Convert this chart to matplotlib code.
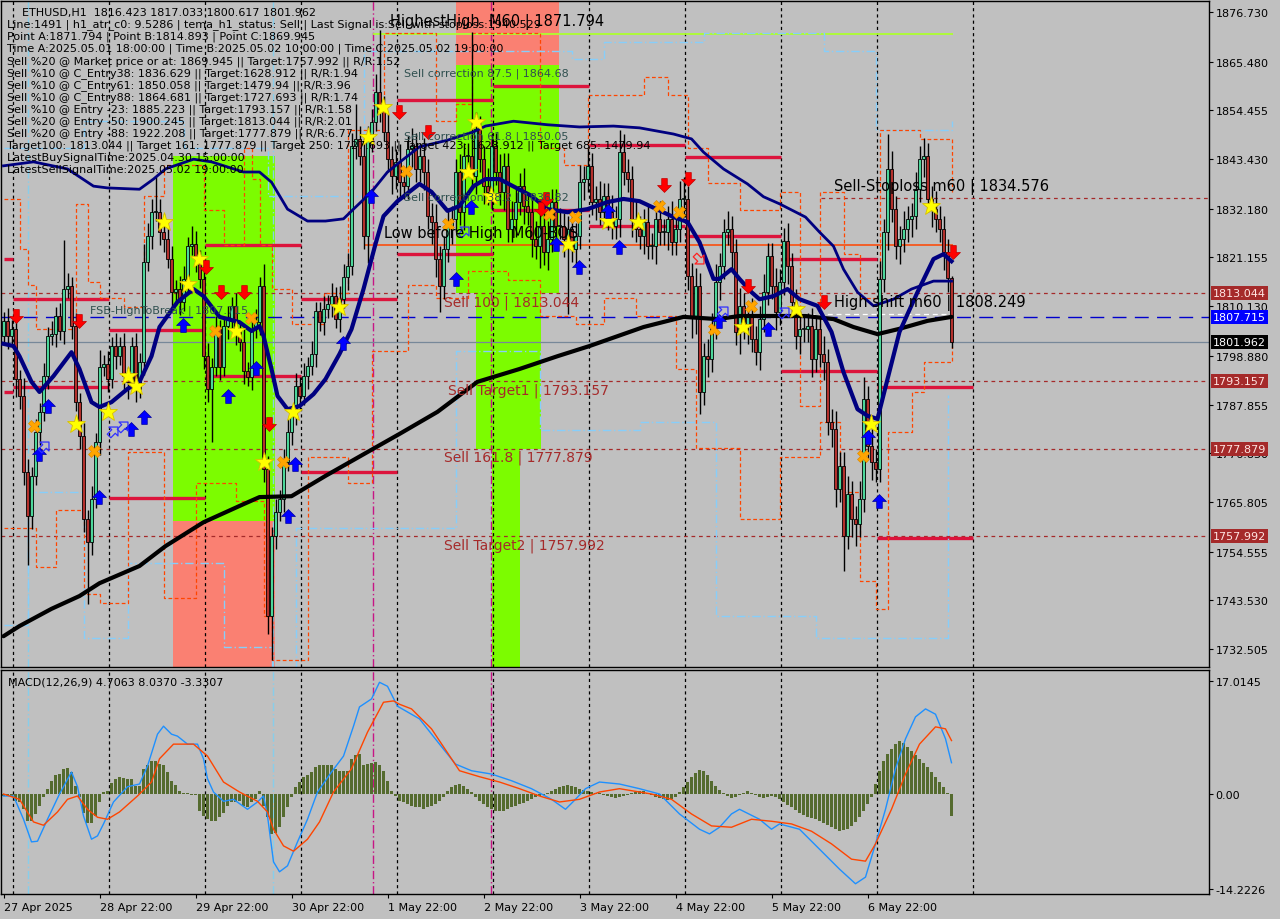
import numpy as np
import matplotlib
matplotlib.use("Agg")
import matplotlib.pyplot as plt
from matplotlib.path import Path
from matplotlib.transforms import Affine2D

# ---------------- price data (ETHUSD, H1) ----------------
open_first = 1803.4
close = [
    1806.8, 1803.4, 1805.0, 1793.6, 1789.8, 1772.6, 1762.6, 1771.7, 1781.6, 1786.2, 1794.3, 1803.4,
    1803.8, 1807.9, 1804.5, 1814.0, 1814.7, 1805.6, 1788.4, 1780.7, 1761.9, 1756.7, 1766.5, 1779.4,
    1796.3, 1797.0, 1793.6, 1801.1, 1798.8, 1801.1, 1794.3, 1793.0, 1801.1, 1791.4, 1797.5, 1820.1,
    1826.0, 1831.4, 1831.4, 1826.9, 1825.3, 1820.8, 1813.3, 1814.0, 1811.1, 1816.3, 1823.7, 1824.2,
    1820.8, 1816.3, 1798.8, 1791.4, 1796.3, 1805.0, 1796.3, 1805.6, 1807.2, 1810.2, 1804.3, 1802.0,
    1795.4, 1794.1, 1805.0, 1806.5, 1814.7, 1773.3, 1740.0, 1758.1, 1763.5, 1766.5, 1774.8, 1781.6,
    1785.3, 1792.1, 1789.8, 1794.3, 1796.6, 1799.3, 1809.0, 1806.5, 1809.5, 1810.6, 1812.4, 1807.2,
    1811.7, 1816.7, 1819.2, 1846.4, 1848.0, 1844.1, 1826.0, 1848.0, 1851.8, 1858.6, 1854.8, 1849.6,
    1843.4, 1839.6, 1842.8, 1838.2, 1837.3, 1845.7, 1846.4, 1841.2, 1844.1, 1840.5, 1830.5, 1829.2,
    1820.8, 1814.7, 1823.1, 1828.3, 1829.9, 1840.5, 1831.4, 1844.1, 1844.1, 1839.6, 1850.2, 1843.4,
    1837.3, 1836.0, 1846.4, 1840.5, 1836.0, 1841.9, 1827.6, 1829.9, 1833.7, 1837.3, 1832.8, 1831.4,
    1825.3, 1823.7, 1828.3, 1822.4, 1825.3, 1833.7, 1828.3, 1828.3, 1825.3, 1827.6, 1823.1, 1826.0,
    1838.2, 1838.9, 1841.9, 1833.7, 1834.4, 1831.4, 1835.1, 1831.4, 1828.3, 1829.9, 1845.0, 1840.5,
    1838.9, 1829.9, 1827.6, 1826.0, 1829.2, 1823.7, 1823.7, 1829.9, 1826.9, 1826.9, 1829.9, 1824.6,
    1827.6, 1834.4, 1834.4, 1816.9, 1807.9, 1814.7, 1790.7, 1798.8, 1798.2, 1805.6, 1815.6, 1819.2,
    1826.9, 1827.6, 1822.4, 1804.3, 1810.2, 1805.6, 1807.9, 1802.7, 1799.7, 1807.2, 1813.3, 1821.5,
    1814.7, 1808.8, 1815.6, 1824.9, 1819.2, 1811.1, 1803.4, 1805.0, 1805.0, 1805.6, 1798.2, 1805.0,
    1799.3, 1797.5, 1783.9, 1782.3, 1768.7, 1774.0, 1758.1, 1767.6, 1761.9, 1760.8, 1766.5, 1789.1,
    1778.5, 1774.8, 1773.3, 1816.3, 1826.9, 1841.2, 1832.1, 1823.7, 1825.3, 1827.6, 1829.9, 1830.5,
    1836.6, 1843.4, 1844.1, 1834.4, 1832.1, 1829.9, 1827.6, 1822.4, 1816.423, 1801.962,
]
upper_wick = [
    2, 3, 2, 3, 2, 4, 3, 2, 3, 2, 3, 2, 3, 2, 3, 11, 3, 2, 3, 2, 3, 2, 3, 2,
    4, 2, 3, 2, 3, 2, 3, 2, 2, 3, 2, 4, 3, 3, 8, 3, 4, 3, 3, 2, 3, 3, 2, 4,
    3, 2, 2, 3, 2, 3, 2, 2, 3, 2, 3, 2, 3, 2, 3, 3, 2, 5, 3, 2, 3, 2, 3, 3,
    2, 3, 2, 3, 2, 3, 2, 2, 3, 2, 3, 2, 3, 3, 3, 3, 8, 3, 4, 3, 3, 4, 14, 3,
    4, 3, 3, 4, 3, 3, 4, 3, 3, 4, 3, 3, 4, 3, 3, 4, 3, 3, 4, 3, 3, 28, 4, 3,
    3, 4, 3, 3, 4, 3, 3, 4, 3, 3, 4, 3, 3, 4, 3, 3, 4, 3, 3, 4, 3, 3, 4, 3,
    4, 3, 4, 3, 3, 4, 3, 3, 4, 3, 5, 4, 3, 3, 4, 3, 3, 4, 3, 3, 4, 3, 3, 4,
    3, 4, 5, 3, 3, 4, 3, 3, 4, 3, 4, 3, 3, 4, 3, 3, 4, 3, 3, 4, 3, 3, 4, 3,
    3, 4, 3, 3, 4, 3, 3, 4, 3, 3, 4, 3, 3, 4, 3, 3, 4, 3, 3, 4, 3, 3, 4, 5,
    3, 4, 3, 4, 3, 8, 4, 3, 3, 4, 3, 3, 4, 3, 4, 3, 3, 4, 3, 3, 3, 0.61,
]
lower_wick = [
    2, 3, 2, 4, 3, 3, 11, 3, 2, 3, 2, 3, 2, 3, 2, 3, 2, 3, 2, 3, 3, 14, 3, 2,
    3, 2, 3, 2, 3, 2, 3, 4, 2, 3, 2, 3, 2, 3, 2, 3, 3, 2, 4, 3, 3, 2, 3, 2,
    3, 2, 3, 3, 12, 2, 3, 2, 3, 2, 3, 2, 3, 2, 3, 2, 3, 3, 4, 10, 3, 2, 3, 2,
    3, 2, 3, 2, 3, 2, 3, 2, 3, 2, 3, 2, 3, 2, 3, 2, 3, 2, 3, 6, 3, 2, 3, 2,
    3, 4, 3, 4, 3, 3, 4, 3, 3, 4, 3, 5, 4, 6, 3, 3, 4, 3, 3, 4, 3, 3, 4, 3,
    4, 3, 4, 3, 3, 4, 3, 3, 4, 3, 4, 3, 4, 3, 5, 3, 4, 3, 4, 3, 4, 17, 3, 4,
    3, 4, 3, 3, 4, 3, 3, 4, 3, 3, 4, 3, 3, 4, 3, 3, 4, 3, 3, 4, 3, 3, 4, 3,
    3, 3, 4, 3, 5, 4, 5, 3, 4, 3, 3, 4, 3, 3, 4, 3, 5, 3, 4, 3, 3, 4, 3, 3,
    3, 4, 3, 3, 4, 3, 3, 4, 3, 3, 4, 3, 3, 4, 3, 4, 4, 3, 8, 3, 4, 5, 3, 3,
    3, 4, 3, 3, 3, 4, 3, 3, 4, 3, 3, 4, 3, 3, 4, 3, 4, 3, 3, 4, 3, 1.35,
]

# ---------------- moving averages (bar index, price) ----------------
fast_ma_bar = [0, 2.5, 4, 7, 9, 12.5, 17, 19, 22, 24, 27, 31, 34, 37, 39, 43.5, 47.5, 50, 54, 59, 62, 64,
               65, 67, 68.5, 71, 74, 77.5, 80.5, 84, 87, 90, 93, 95, 98.5, 104, 107, 111, 114, 117.5,
               120.5, 124, 132, 136, 141, 146, 151, 155, 159, 167.5, 171, 174, 177.5, 179, 182, 184,
               187, 189, 192.5, 196, 199, 203.5, 207, 210, 213.5, 216, 218.5, 221, 224, 228.5, 232.5,
               235, 237]
fast_ma_val = [1801.6, 1801.1, 1798.8, 1793.0, 1790.7, 1794.3, 1799.7, 1795.9, 1788.4, 1787.3, 1788.4,
               1791.4, 1793.0, 1798.8, 1805.4, 1811.1, 1814.0, 1812.4, 1807.7, 1806.5, 1804.5, 1805.6,
               1803.4, 1795.9, 1789.8, 1786.8, 1787.5, 1790.2, 1793.6, 1799.3, 1804.9, 1814.0, 1824.2,
               1830.5, 1833.9, 1837.8, 1836.0, 1831.7, 1832.8, 1837.3, 1838.9, 1838.9, 1835.1, 1832.1,
               1831.4, 1832.1, 1833.7, 1834.4, 1833.9, 1830.3, 1829.2, 1824.6, 1816.3, 1816.3, 1818.5,
               1816.3, 1813.3, 1811.7, 1812.4, 1814.0, 1811.7, 1810.2, 1804.3, 1795.2, 1786.8, 1785.3,
               1784.6, 1793.6, 1804.3, 1813.3, 1820.8, 1821.9, 1820.3]
slow_band_bar = [0, 7.5, 16, 22.5, 26, 34, 37.5, 40.5, 47.5, 52, 60, 64, 67, 71, 76, 80.5, 85, 87.5, 92,
                 96, 100, 104, 111, 117.5, 120.5, 127.5, 136, 144, 152.5, 159, 167.5, 172, 175, 180,
                 186, 190, 194, 200.5, 204, 207.5, 210, 213.5, 217.5, 222.5, 227, 232.5, 237]
slow_band_val = [1841.9, 1842.8, 1841.2, 1837.3, 1836.9, 1836.6, 1838.9, 1841.2, 1843.4, 1842.8, 1840.5,
                 1840.5, 1838.2, 1832.1, 1829.4, 1829.4, 1829.9, 1832.1, 1836.0, 1840.5, 1843.4, 1846.2,
                 1847.7, 1849.6, 1850.9, 1852.0, 1851.2, 1850.7, 1850.9, 1850.5, 1849.1, 1848.0, 1845.0,
                 1841.2, 1837.8, 1834.9, 1833.3, 1830.3, 1826.9, 1823.7, 1818.5, 1813.3, 1810.2, 1811.7,
                 1814.0, 1815.8, 1815.8]
long_ma_bar = [0, 4, 12, 19, 24, 34, 40.5, 50, 60, 64, 72, 80.5, 91, 99, 108.5, 118.5, 129, 138.5, 146.5,
               160, 170, 178.5, 184, 200.5, 207.5, 212.5, 218.5, 224, 231, 237]
long_ma_val = [1735.4, 1737.7, 1741.6, 1744.5, 1747.4, 1751.3, 1755.8, 1761.2, 1765.3, 1766.9, 1767.1,
               1771.7, 1777.1, 1781.2, 1786.2, 1793.0, 1795.9, 1798.8, 1801.1, 1805.4, 1807.7, 1807.2,
               1807.9, 1807.9, 1807.2, 1805.4, 1803.8, 1805.0, 1806.8, 1807.7]

# ---------------- channel step lines (bar index, price) ----------------
chan_hi_bar = [0, 4, 6, 8, 18, 21, 24, 30, 35, 40, 50, 55, 60, 62, 64, 67, 72, 80, 86, 95, 108, 113, 117,
               134, 140, 146, 160, 166, 171, 176, 184, 194, 199, 204, 210, 214, 219, 229, 237]
chan_hi_val = [1834.4, 1823.1, 1815.0, 1805.0, 1833.3, 1815.6, 1812.0, 1810.0, 1835.0, 1842.0, 1832.0,
               1824.0, 1846.0, 1839.0, 1824.0, 1814.0, 1806.0, 1813.0, 1850.0, 1872.0, 1852.0, 1856.0,
               1872.0, 1846.0, 1842.0, 1858.0, 1862.0, 1858.0, 1846.0, 1838.0, 1832.0, 1836.0, 1787.5,
               1836.0, 1822.0, 1812.0, 1850.0, 1848.0, 1836.0]
chan_lo_bar = [0, 8, 13, 20, 24, 31, 40, 48, 58, 65, 67, 76, 86, 92, 101, 108, 116, 126, 134, 143, 150,
               158, 168, 173, 184, 194, 204, 209, 214, 218, 221, 227, 230, 237]
chan_lo_val = [1760.0, 1751.0, 1764.0, 1745.0, 1743.0, 1777.0, 1744.0, 1770.0, 1766.0, 1740.0, 1730.0,
               1776.0, 1770.0, 1800.0, 1815.0, 1812.0, 1818.0, 1816.0, 1808.0, 1806.0, 1812.0, 1808.0,
               1796.0, 1778.0, 1762.0, 1776.0, 1784.0, 1768.0, 1748.0, 1741.6, 1781.6, 1790.7, 1797.5,
               1801.0]
wide_hi_bar = [0, 20, 45, 66, 90, 142, 150, 175, 205, 218, 237]
wide_hi_val = [1846.0, 1852.0, 1846.0, 1835.0, 1868.0, 1866.0, 1870.0, 1872.0, 1868.0, 1850.0, 1852.0]
wide_lo_bar = [0, 6, 20, 31, 55, 67, 73, 113, 134, 159, 178, 203, 236]
wide_lo_val = [1738.0, 1768.0, 1735.0, 1752.0, 1733.0, 1728.5, 1760.0, 1800.0, 1782.0, 1784.0, 1740.0,
               1735.0, 1790.0]

# ---------------- horizontal levels ----------------
level_sell100 = 1813.044
level_target1 = 1793.157
level_sell161 = 1777.879
level_target2 = 1757.992
level_stoploss = 1834.576
level_fsb = 1807.715
level_bid = 1801.962
level_high_shift = 1808.249
level_low_before_high = 1823.9
level_highest_high = 1871.794

# daily swing segments: (start bar, end bar, price)
seg_start = [0, 0, 2.25, 2.25, 26.25, 26.25, 50.25, 50.25, 74.25, 74.25, 98.25, 98.25, 122.25, 122.25,
             146.25, 146.25, 170.25, 170.25, 194.25, 194.25, 218.25, 218.25]
seg_end = [2.25, 2.25, 26.25, 26.25, 50.25, 50.25, 74.25, 74.25, 98.25, 98.25, 122.25, 122.25, 146.25,
           146.25, 170.25, 170.25, 194.25, 194.25, 218.25, 218.25, 242.25, 242.25]
seg_price = [1820.8, 1790.7, 1811.7, 1791.8, 1804.7, 1766.7, 1824.0, 1794.3, 1811.7, 1772.6, 1856.8,
             1821.9, 1860.0, 1831.9, 1846.6, 1828.3, 1843.9, 1826.0, 1820.8, 1795.4, 1791.8, 1757.6]

# ---------------- signal markers (bar index, price) ----------------
star_bar = [40, 46, 48.75, 58, 65, 72.25, 31, 33, 26, 18, 83.75, 94.75, 91, 118, 116, 121.75, 141, 151,
            158.5, 184.75, 198, 216.75, 231.75]
star_val = [1829.2, 1815.1, 1820.8, 1804.5, 1774.8, 1786.2, 1794.3, 1792.0, 1786.2, 1783.4, 1809.9,
            1855.2, 1848.4, 1851.8, 1840.5, 1835.1, 1824.2, 1829.4, 1829.2, 1805.4, 1809.5, 1783.4,
            1832.8]
cross_bar = [7.5, 22.5, 52.75, 61.75, 69.75, 100.5, 111, 136.25, 142.75, 163.75, 168.75, 177.5, 186.75,
             214.75]
cross_val = [1783.0, 1777.3, 1804.5, 1807.4, 1774.8, 1840.7, 1828.7, 1831.0, 1830.3, 1832.8, 1831.4,
             1804.9, 1810.2, 1776.2]
sell_bar = [3, 18.75, 50.5, 54.25, 60, 66.25, 98.75, 106, 134.25, 135.5, 165, 171, 186, 205, 237.25]
sell_val = [1807.9, 1806.8, 1819.0, 1813.3, 1813.3, 1783.4, 1854.1, 1849.6, 1832.1, 1834.4, 1837.5,
            1838.9, 1814.7, 1811.1, 1822.4]
buy_bar = [11, 8.75, 23.75, 31.75, 35, 44.75, 56, 63, 72.75, 71, 84.75, 91.75, 116.75, 113, 138,
           143.75, 151, 153.75, 178.75, 191, 216, 218.75]
buy_val = [1787.5, 1776.7, 1766.9, 1782.3, 1785.0, 1805.9, 1789.8, 1796.1, 1774.4, 1762.6, 1801.8,
           1835.1, 1832.6, 1816.3, 1824.2, 1819.0, 1831.7, 1823.5, 1806.7, 1804.9, 1780.5, 1766.0]
hint_buy_bar = [10, 27.25, 29.75, 115, 179.75, 195]
hint_buy_val = [1778.5, 1781.9, 1783.0, 1827.1, 1809.0, 1808.8]
hint_sell_bar = [173.75]
hint_sell_val = [1820.8]

# ---------------- MACD(12,26,9) ----------------
macd_bar = [0, 2.5, 5, 7, 8.5, 11, 14, 17, 18.5, 20, 22, 23.5, 25, 27.5, 31, 34, 36, 38.5, 40, 42, 43.5,
            46, 48.5, 50, 51, 52.5, 55, 57.5, 61, 63.5, 65, 66, 67.5, 69, 71, 73.5, 76, 78.5, 82, 85,
            87.5, 89, 92, 94, 96, 98.5, 104, 109, 113, 117, 122, 127, 132, 137, 140.5, 143, 145.5, 149,
            154, 159, 164, 169, 174, 176.5, 179, 182, 184, 189, 192, 194, 199, 204, 209, 213, 215.5,
            218, 220.5, 223, 225.5, 228, 230.5, 233, 235.5, 237]
macd_val = [-0.3, -0.3, -3.8, -7.2, -7.1, -3.8, 0.0, 3.3, 1.1, -3.3, -6.8, -6.3, -4.5, -1.2, 1.1, 1.5,
            4.2, 9.0, 10.2, 9.0, 8.7, 7.5, 7.5, 5.3, 2.3, 0.3, -1.1, -0.8, -2.3, -1.2, -0.3, -3.3, -10.2,
            -11.7, -10.8, -7.2, -3.8, 0.3, 3.3, 5.7, 10.2, 13.1, 14.3, 16.8, 16.2, 13.2, 11.3, 7.5, 4.5,
            3.5, 3.0, 2.0, 0.8, -0.8, -2.3, -0.8, 0.8, 1.8, 1.5, 0.8, 0.0, -3.0, -5.3, -6.0, -5.0, -3.0,
            -2.3, -3.8, -5.3, -4.5, -5.3, -8.3, -11.3, -13.5, -12.5, -7.5, -2.3, 3.8, 8.3, 11.6, 12.8,
            12.0, 8.3, 4.7063]
signal_bar = [0, 4, 7.5, 10, 13.5, 16, 18.5, 21, 23.5, 26, 29, 33.5, 37, 39, 42.5, 47.5, 51, 55, 59, 63.5,
              66, 67.5, 70, 72.5, 76, 79, 82.5, 87, 91, 95, 97.5, 99, 102, 107, 112, 114, 119, 124, 129,
              134, 139, 144, 149, 154, 162, 167, 172, 177, 182, 187, 192, 197, 202, 207, 212, 215.5, 218,
              222, 225.5, 229, 233, 235.5, 237]
signal_val = [0.0, -0.8, -4.2, -4.7, -2.7, -0.8, -0.3, -2.3, -3.5, -3.8, -2.7, -0.3, 1.8, 5.3, 7.5, 7.5,
              5.7, 1.8, 0.3, -1.1, -2.7, -5.3, -7.8, -8.6, -6.8, -4.2, 0.3, 3.8, 9.3, 13.8, 14.0, 13.5,
              12.8, 9.8, 5.3, 3.5, 2.6, 1.8, 0.8, -0.3, -1.2, -0.8, 0.3, 0.8, 0.0, -0.8, -3.0, -4.8, -5.0,
              -3.8, -4.1, -4.5, -5.6, -7.5, -9.8, -10.1, -7.5, -2.3, 3.0, 7.5, 10.1, 9.8, 8.037]
macd_hist = [
    -0.3, -0.3, -0.4, -1.0, -1.2, -2.3, -4.0, -4.0, -3.0, -1.8, -0.5, 0.8, 2.0, 2.9, 3.0, 3.8, 3.9, 3.3,
    1.2, -0.5, -2.8, -4.3, -4.3, -3.3,
    -1.2, 0.3, 0.5, 1.7, 2.3, 2.5, 2.4, 2.2, 2.2, 1.2, 1.2, 3.8, 4.3, 4.9, 5.0, 4.5, 4.3, 3.3, 2.0, 1.4,
    0.5, 0.1, 0.1, -0.1,
    -0.1, -2.5, -3.3, -3.8, -4.1, -4.0, -3.5, -2.8, -1.8, -1.2, -1.2, -1.0, -1.8, -2.0, -1.2, -0.8, 0.5,
    -1.8, -3.5, -6.0, -5.8, -5.0, -3.5, -2.0,
    -0.5, 1.0, 1.8, 2.6, 2.8, 3.3, 4.0, 4.4, 4.4, 4.4, 4.4, 3.8, 3.5, 3.5, 3.5, 5.3, 5.8, 6.0, 4.4, 4.5,
    4.7, 4.8, 4.3, 3.5,
    2.0, 0.5, -0.3, -1.0, -1.2, -1.5, -1.8, -2.0, -2.0, -2.2, -2.0, -1.8, -1.5, -1.0, -0.5, 0.5, 1.0, 1.3,
    1.5, 1.2, 0.8, 0.3, -0.5, -1.0,
    -1.5, -2.0, -2.3, -2.5, -2.6, -2.5, -2.3, -2.0, -1.8, -1.5, -1.3, -1.0, -0.8, -0.5, -0.3, -0.2, 0.2,
    0.5, 0.8, 1.0, 1.2, 1.3, 1.2, 1.0,
    0.8, 0.6, 0.4, 0.3, 0.2, 0.1, -0.1, -0.3, -0.5, -0.6, -0.5, -0.3, -0.2, 0.1, 0.3, 0.5, 0.4, 0.2, -0.2,
    -0.4, -0.6, -0.8, -0.9, -0.8,
    -0.5, 0.3, 1.0, 1.8, 2.6, 3.2, 3.6, 3.4, 2.8, 2.0, 1.2, 0.6, 0.2, -0.3, -0.6, -0.4, -0.2, 0.2, 0.4,
    0.2, -0.2, -0.5, -0.6, -0.5,
    -0.3, -0.5, -0.8, -1.2, -1.6, -2.0, -2.4, -2.8, -3.1, -3.4, -3.6, -3.8, -4.0, -4.3, -4.6, -5.0, -5.3,
    -5.5, -5.4, -5.2, -4.8, -4.2, -3.5, -2.5,
    -1.5, -0.5, 1.5, 3.5, 5.0, 6.0, 6.8, 7.5, 8.0, 7.6, 7.0, 6.4, 5.8, 5.2, 4.6, 4.0, 3.3, 2.6, 1.8, 1.0,
    0.2, -3.3307,
]

price_ticks = [1876.730, 1865.480, 1854.455, 1843.430, 1832.180, 1821.155, 1810.130, 1798.880,
               1787.855, 1776.830, 1765.805, 1754.555, 1743.530, 1732.505]
macd_ticks = [17.0145, 0.0, -14.2226]
macd_tick_labels = ["17.0145", "0.00", "-14.2226"]
time_tick_bars = [0, 24, 48, 72, 96, 120, 144, 168, 192, 216]
time_tick_labels = ["27 Apr 2025", "28 Apr 22:00", "29 Apr 22:00", "30 Apr 22:00", "1 May 22:00",
                    "2 May 22:00", "3 May 22:00", "4 May 22:00", "5 May 22:00", "6 May 22:00"]
day_breaks = [2.25 + 24 * k for k in range(11)]

info_lines = [
    "Line:1491 | h1_atr_c0: 9.5286 | tema_h1_status: Sell | Last Signal is:Sell with stoploss:1940.529",
    "Point A:1871.794 | Point B:1814.893 | Point C:1869.945",
    "Time A:2025.05.01 18:00:00 | Time B:2025.05.02 10:00:00 | Time C:2025.05.02 19:00:00",
    "Sell %20 @ Market price or at: 1869.945 || Target:1757.992 || R/R:1.52",
    "Sell %10 @ C_Entry38: 1836.629 || Target:1628.912 || R/R:1.94",
    "Sell %10 @ C_Entry61: 1850.058 || Target:1479.94 || R/R:3.96",
    "Sell %10 @ C_Entry88: 1864.681 || Target:1727.693 || R/R:1.74",
    "Sell %10 @ Entry -23: 1885.223 || Target:1793.157 || R/R:1.58",
    "Sell %20 @ Entry -50: 1900.245 || Target:1813.044 || R/R:2.01",
    "Sell %20 @ Entry -88: 1922.208 || Target:1777.879 || R/R:6.77",
    "Target100: 1813.044 || Target 161: 1777.879 || Target 250: 1727.693 || Target 423: 1628.912 || Target 685: 1479.94",
    "LatestBuySignalTime:2025.04.30 15:00:00",
    "LatestSellSignalTime:2025.05.02 19:00:00",
]

# ---------------- figure layout ----------------
W, H = 1280, 920
BG = "#C0C0C0"
plt.rcParams["font.family"] = ["DejaVu Sans"]
fig = plt.figure(figsize=(W / 100, H / 100), dpi=100, facecolor=BG)

ax = fig.add_axes([0.5 / W, 1 - 668 / H, 1208 / W, 666 / H], facecolor=BG)
ax2 = fig.add_axes([0.5 / W, 1 - 895 / H, 1208 / W, 224 / H], facecolor=BG)

XMIN, XMAX = -0.75, 301.25
ax.set_xlim(XMIN, XMAX)
ax.set_ylim(1728.43, 1879.22)
ax2.set_xlim(XMIN, XMAX)
ax2.set_ylim(-15.04, 18.65)

for a in (ax, ax2):
    for s in a.spines.values():
        s.set_color("black")
        s.set_linewidth(1.0)
    a.yaxis.tick_right()
    a.tick_params(axis="y", which="both", direction="out", length=3, width=0.8, labelsize=8,
                  colors="black", pad=2)

ax.set_xticks([])
ax.set_yticks(price_ticks)
ax.set_yticklabels([f"{v:.3f}" for v in price_ticks])

ax2.set_yticks(macd_ticks)
ax2.set_yticklabels(macd_tick_labels)
ax2.set_xticks(time_tick_bars)
ax2.set_xticklabels(time_tick_labels, ha="left")
ax2.tick_params(axis="x", direction="out", length=3, width=0.8, labelsize=8, pad=3)

# ---------------- background zones ----------------
def zone(a, x0, x1, y0, y1, color):
    a.fill_between([x0, x1], [y0, y0], [y1, y1], color=color, lw=0, zorder=0.5)

zone(ax, 42.25, 67.75, 1761.5, 1844.1, "#7CFC00")
zone(ax, 42.25, 67.75, 1700.0, 1761.5, "#FA8072")
zone(ax, 113.0, 138.75, 1864.68, 1900.0, "#FA8072")
zone(ax, 113.0, 138.75, level_sell100, 1864.68, "#7CFC00")
zone(ax, 118.0, 134.25, level_sell161, level_sell100, "#7CFC00")
zone(ax, 122.0, 129.0, 1727.693, level_sell161, "#7CFC00")

# ---------------- vertical markers ----------------
for a in (ax, ax2):
    for d in day_breaks:
        a.axvline(d, color="black", lw=0.9, ls=(0, (2.5, 2.5)), zorder=1)
    for v in (6.0, 67.25):
        a.axvline(v, color="#87CEEB", lw=1.0, ls=(0, (6, 2, 1, 2)), zorder=1)
    for v in (92.25, 121.75):
        a.axvline(v, color="#C71585", lw=1.0, ls=(0, (6, 2, 1, 2)), zorder=1)

# ---------------- horizontal levels ----------------
dash = (0, (3, 3))
for lv in (level_sell100, level_target1, level_sell161, level_target2):
    ax.axhline(lv, color="#A52A2A", lw=0.9, ls=dash, zorder=1.2)
ax.hlines(level_stoploss, 204.25, XMAX, color="#A52A2A", lw=0.9, ls=dash, zorder=1.2)
ax.axhline(level_fsb, color="#0000CD", lw=1.0, ls=(0, (10, 6)), zorder=1.2)
ax.axhline(level_bid, color="#778899", lw=0.9, zorder=1.2)
ax.hlines(level_high_shift, 199.25, 236.5, color="white", lw=0.9, ls=(0, (4, 3)), zorder=1.2)
ax.hlines(level_low_before_high, 90.0, 237.25, color="#FF4500", lw=1.1, zorder=1.3)
ax.hlines(level_highest_high, 92.25, 237.25, color="#ADFF2F", lw=1.3, zorder=1.3)

ax.hlines(seg_price, seg_start, seg_end, color="#DC143C", lw=2.4, zorder=1.6)

# ---------------- channel lines ----------------
ax.step(chan_hi_bar, chan_hi_val, where="post", color="#FF4500", lw=0.9, ls=(0, (3, 2)), zorder=1.8)
ax.step(chan_lo_bar, chan_lo_val, where="post", color="#FF4500", lw=0.9, ls=(0, (3, 2)), zorder=1.8)
ax.step(wide_hi_bar, wide_hi_val, where="post", color="#87CEFA", lw=1.0, ls=(0, (6, 2, 1, 2)), zorder=1.7)
ax.step(wide_lo_bar, wide_lo_val, where="post", color="#87CEFA", lw=1.0, ls=(0, (6, 2, 1, 2)), zorder=1.7)

# ---------------- candles ----------------
n = len(close)
xb = np.arange(n)
c = np.array(close)
o = np.r_[open_first, c[:-1]]
top = np.maximum(o, c)
bot = np.minimum(o, c)
hi = top + np.array(upper_wick)
lo = bot - np.array(lower_wick)
ax.vlines(xb, lo, hi, color="black", lw=1.0, zorder=3)
body = np.maximum(top - bot, 0.25)
bull = c >= o
ax.bar(xb[bull], body[bull], bottom=bot[bull], width=0.72, color="#4CD69A", edgecolor="black",
       linewidth=0.6, zorder=3.5)
ax.bar(xb[~bull], body[~bull], bottom=bot[~bull], width=0.72, color="#B3302C", edgecolor="black",
       linewidth=0.6, zorder=3.5)

# ---------------- moving averages ----------------
ax.plot(long_ma_bar, long_ma_val, color="black", lw=3.0, zorder=4, solid_capstyle="round")
ax.plot(slow_band_bar, slow_band_val, color="#000080", lw=2.0, zorder=4)
ax.plot(fast_ma_bar, fast_ma_val, color="#000080", lw=3.0, zorder=4.1, solid_joinstyle="round")

# ---------------- signal markers ----------------
arrow_down = Path([(-0.2, 0.5), (0.2, 0.5), (0.2, 0.0), (0.5, 0.0), (0.0, -0.5), (-0.5, 0.0),
                   (-0.2, 0.0), (-0.2, 0.5)], closed=True)
arrow_up = arrow_down.transformed(Affine2D().scale(1, -1))
arrow_diag = arrow_up.transformed(Affine2D().rotate_deg(-45))
arrow_diag_dn = arrow_down.transformed(Affine2D().rotate_deg(45))

ax.plot(star_bar, star_val, ls="none", marker="*", ms=14, mfc="#FFFF00", mec="#D8C000", mew=0.6,
        zorder=6)
ax.plot(cross_bar, cross_val, ls="none", marker="X", ms=9, mfc="#FFA500", mec="#E08A00", mew=0.5,
        zorder=6)
ax.plot(sell_bar, sell_val, ls="none", marker=arrow_down, ms=10, mfc="#FF0000", mec="#C00000", mew=0.5,
        zorder=6)
ax.plot(buy_bar, buy_val, ls="none", marker=arrow_up, ms=10, mfc="#0000FF", mec="#0000A0", mew=0.5,
        zorder=6)
ax.plot(hint_buy_bar, hint_buy_val, ls="none", marker=arrow_diag, ms=9, mfc="none", mec="#3030FF",
        mew=0.9, zorder=6)
ax.plot(hint_sell_bar, hint_sell_val, ls="none", marker=arrow_diag_dn, ms=9, mfc="none", mec="#FF2020",
        mew=0.9, zorder=6)

# ---------------- chart annotations ----------------
def label(x, y, s, color="black", size=10):
    ax.text(x, y, s, color=color, fontsize=size, va="center", ha="left", zorder=7)

label(96.75, 1874.7, "HighestHigh  M60 | 1871.794", size=10.5)
label(100.0, 1862.9, "Sell correction 87.5 | 1864.68", color="#2F4F4F", size=8)
label(100.0, 1848.65, "Sell correction 61.8 | 1850.05", color="#2F4F4F", size=8)
label(100.0, 1834.84, "Sell correction 38.2 | 1836.82", color="#2F4F4F", size=8)
label(95.0, 1826.9, "Low before High  M60-BOS", size=10.5)
label(110.0, 1811.1, "Sell 100 | 1813.044", color="#A52A2A", size=10)
label(111.25, 1791.1, "Sell Target1 | 1793.157", color="#A52A2A", size=10)
label(110.0, 1775.97, "Sell 161.8 | 1777.879", color="#A52A2A", size=10)
label(110.0, 1756.05, "Sell Target2 | 1757.992", color="#A52A2A", size=10)
label(21.5, 1809.25, "FSB-HighToBreak | 1807.715", color="#2F4F4F", size=8)
label(207.75, 1837.3, "Sell-Stoploss m60 | 1834.576", size=10.5)
label(207.75, 1811.1, "High shift m60 | 1808.249", size=10.5)

# price tags on the right scale
def price_tag(a, value, fc, tc="white"):
    a.annotate(f"{value:.3f}", xy=(1.0, value), xycoords=("axes fraction", "data"),
               xytext=(3, 0), textcoords="offset points", va="center", ha="left", fontsize=8,
               color=tc, zorder=10, annotation_clip=False,
               bbox=dict(boxstyle="square,pad=0.18", fc=fc, ec="none"))

for lv in (level_sell100, level_target1, level_sell161, level_target2):
    price_tag(ax, lv, "#A52A2A", "#FFE4E1")
price_tag(ax, level_fsb, "#0000FF")
price_tag(ax, level_bid, "#000000")

# ---------------- info block ----------------
fig.text(22 / W, 1 - 13 / H, "ETHUSD,H1  1816.423 1817.033 1800.617 1801.962", fontsize=8,
         va="center", ha="left", color="black", zorder=8)
for k, line in enumerate(info_lines):
    fig.text(7 / W, 1 - (25 + 12.1 * k) / H, line, fontsize=8, va="center", ha="left",
             color="black", zorder=8)

# ---------------- MACD panel ----------------
hist = np.array(macd_hist)
ax2.bar(xb, hist, width=0.6, color="#556B2F", lw=0, zorder=2)
ax2.plot(macd_bar, macd_val, color="#1E90FF", lw=1.0, zorder=3)
ax2.plot(signal_bar, signal_val, color="#FF4500", lw=1.0, zorder=3)
ax2.text(7 / 1208, (671 - 683) / 224 + 1, "MACD(12,26,9) 4.7063 8.0370 -3.3307", transform=ax2.transAxes,
         fontsize=8, va="center", ha="left", color="black")

fig.savefig("out.png", dpi=100, facecolor=BG)
